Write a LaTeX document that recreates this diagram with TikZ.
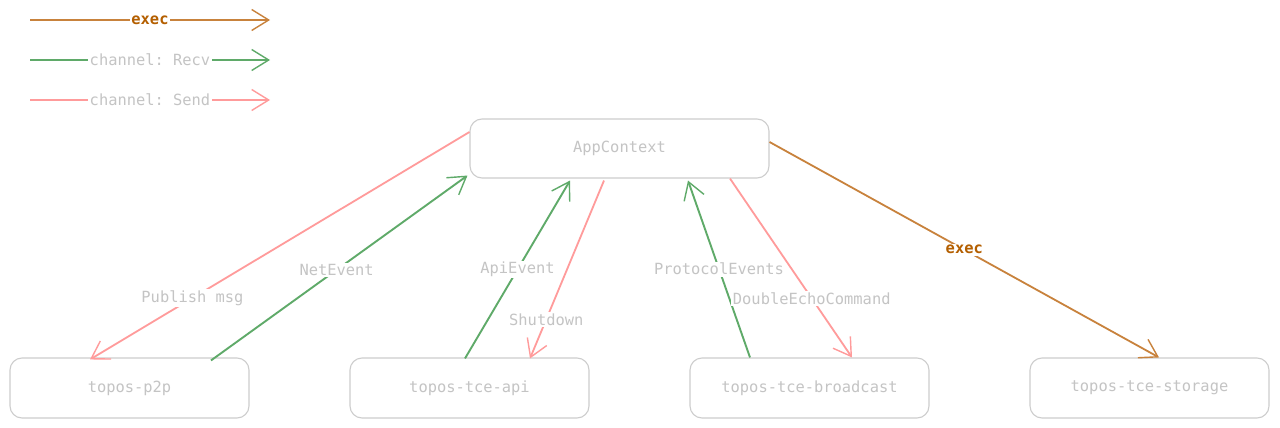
\documentclass[tikz,border=0pt]{standalone}
\usepackage{fontspec}
\setmonofont{DejaVu Sans Mono}
\usetikzlibrary{arrows.meta}
\definecolor{sendc}{RGB}{255,155,155}
\definecolor{recvc}{RGB}{95,170,105}
\definecolor{execc}{RGB}{200,130,60}
\definecolor{exect}{RGB}{180,95,0}
\definecolor{txt}{RGB}{196,196,196}
\definecolor{boxc}{RGB}{205,205,205}
\begin{document}
\begin{tikzpicture}[x=1pt,y=-1pt,
  mono/.style={font=\fontsize{15.4}{18}\selectfont\ttfamily},
  box/.style={mono, draw=boxc, line width=1.1pt, rounded corners=12pt, text=txt,
    minimum width=239pt, minimum height=60pt, inner sep=0pt},
  lbl/.style={mono, fill=white, text=txt, inner sep=1.5pt},
  execlbl/.style={mono, fill=white, text=exect, inner sep=1.5pt, font=\fontsize{15.4}{18}\selectfont\ttfamily\bfseries},
  tip/.style={-{Straight Barb[length=17pt,width=21pt,line width=1.4pt]}},
  send/.style={tip, draw=sendc, line width=1.8pt},
  recv/.style={tip, draw=recvc, line width=1.9pt},
  execa/.style={tip, draw=execc, line width=1.8pt}]
\useasboundingbox[fill=white] (0,0) rectangle (1280,428);

% legend
\coordinate (l1a) at (30,20);  \coordinate (l1b) at (270,20);
\coordinate (l2a) at (30,60);  \coordinate (l2b) at (270,60);
\coordinate (l3a) at (30,100); \coordinate (l3b) at (270,100);
\draw[execa] (l1a) -- (l1b) node[execlbl, pos=0.5] (lg1) {exec};
\draw[recv] (l2a) -- (l2b) node[lbl, pos=0.5] (lg2) {channel: Recv};
\draw[send] (l3a) -- (l3b) node[lbl, pos=0.5] (lg3) {channel: Send};

% nodes
\node[box, minimum width=299pt, minimum height=59pt] (ctx) at (619.5,148.5) {AppContext};
\node[box] (p2p) at (129.5,388) {topos-p2p};
\node[box] (api) at (469.5,388) {topos-tce-api};
\node[box] (bc) at (809.5,388) {topos-tce-broadcast};
\node[box] (st) at (1149.5,388) {topos-tce-storage};

% connectors
\draw[send] ([yshift=16.5pt]ctx.west) -- ([xshift=-39.5pt,yshift=-2pt]p2p.north)
  node[lbl, pos=0.73] (e1) {Publish msg};
\draw[recv] ([xshift=81.5pt,yshift=-3pt]p2p.north) -- ([xshift=-2pt,yshift=3pt]ctx.south west)
  node[lbl, pos=0.49] (e2) {NetEvent};
\draw[recv] ([xshift=-4.5pt,yshift=-1pt]api.north) -- ([xshift=-49.5pt,yshift=-2pt]ctx.south)
  node[lbl, pos=0.5] (e3) {ApiEvent};
\draw[send] ([xshift=-15.5pt,yshift=-2pt]ctx.south) -- ([xshift=60.5pt,yshift=-1pt]api.north)
  node[lbl, pos=0.78] (e4) {Shutdown};
\draw[recv] ([xshift=-59.5pt]bc.north) -- ([xshift=68.5pt,yshift=-2pt]ctx.south)
  node[lbl, pos=0.5] (e5) {ProtocolEvents};
\draw[send] ([xshift=110.5pt]ctx.south) -- ([xshift=42.5pt]bc.north)
  node[lbl, pos=0.67] (e6) {DoubleEchoCommand};
\draw[execa] ([yshift=6.5pt]ctx.east) -- ([xshift=9.5pt]st.north)
  node[execlbl, pos=0.5] (e7) {exec};
\end{tikzpicture}
\end{document}
